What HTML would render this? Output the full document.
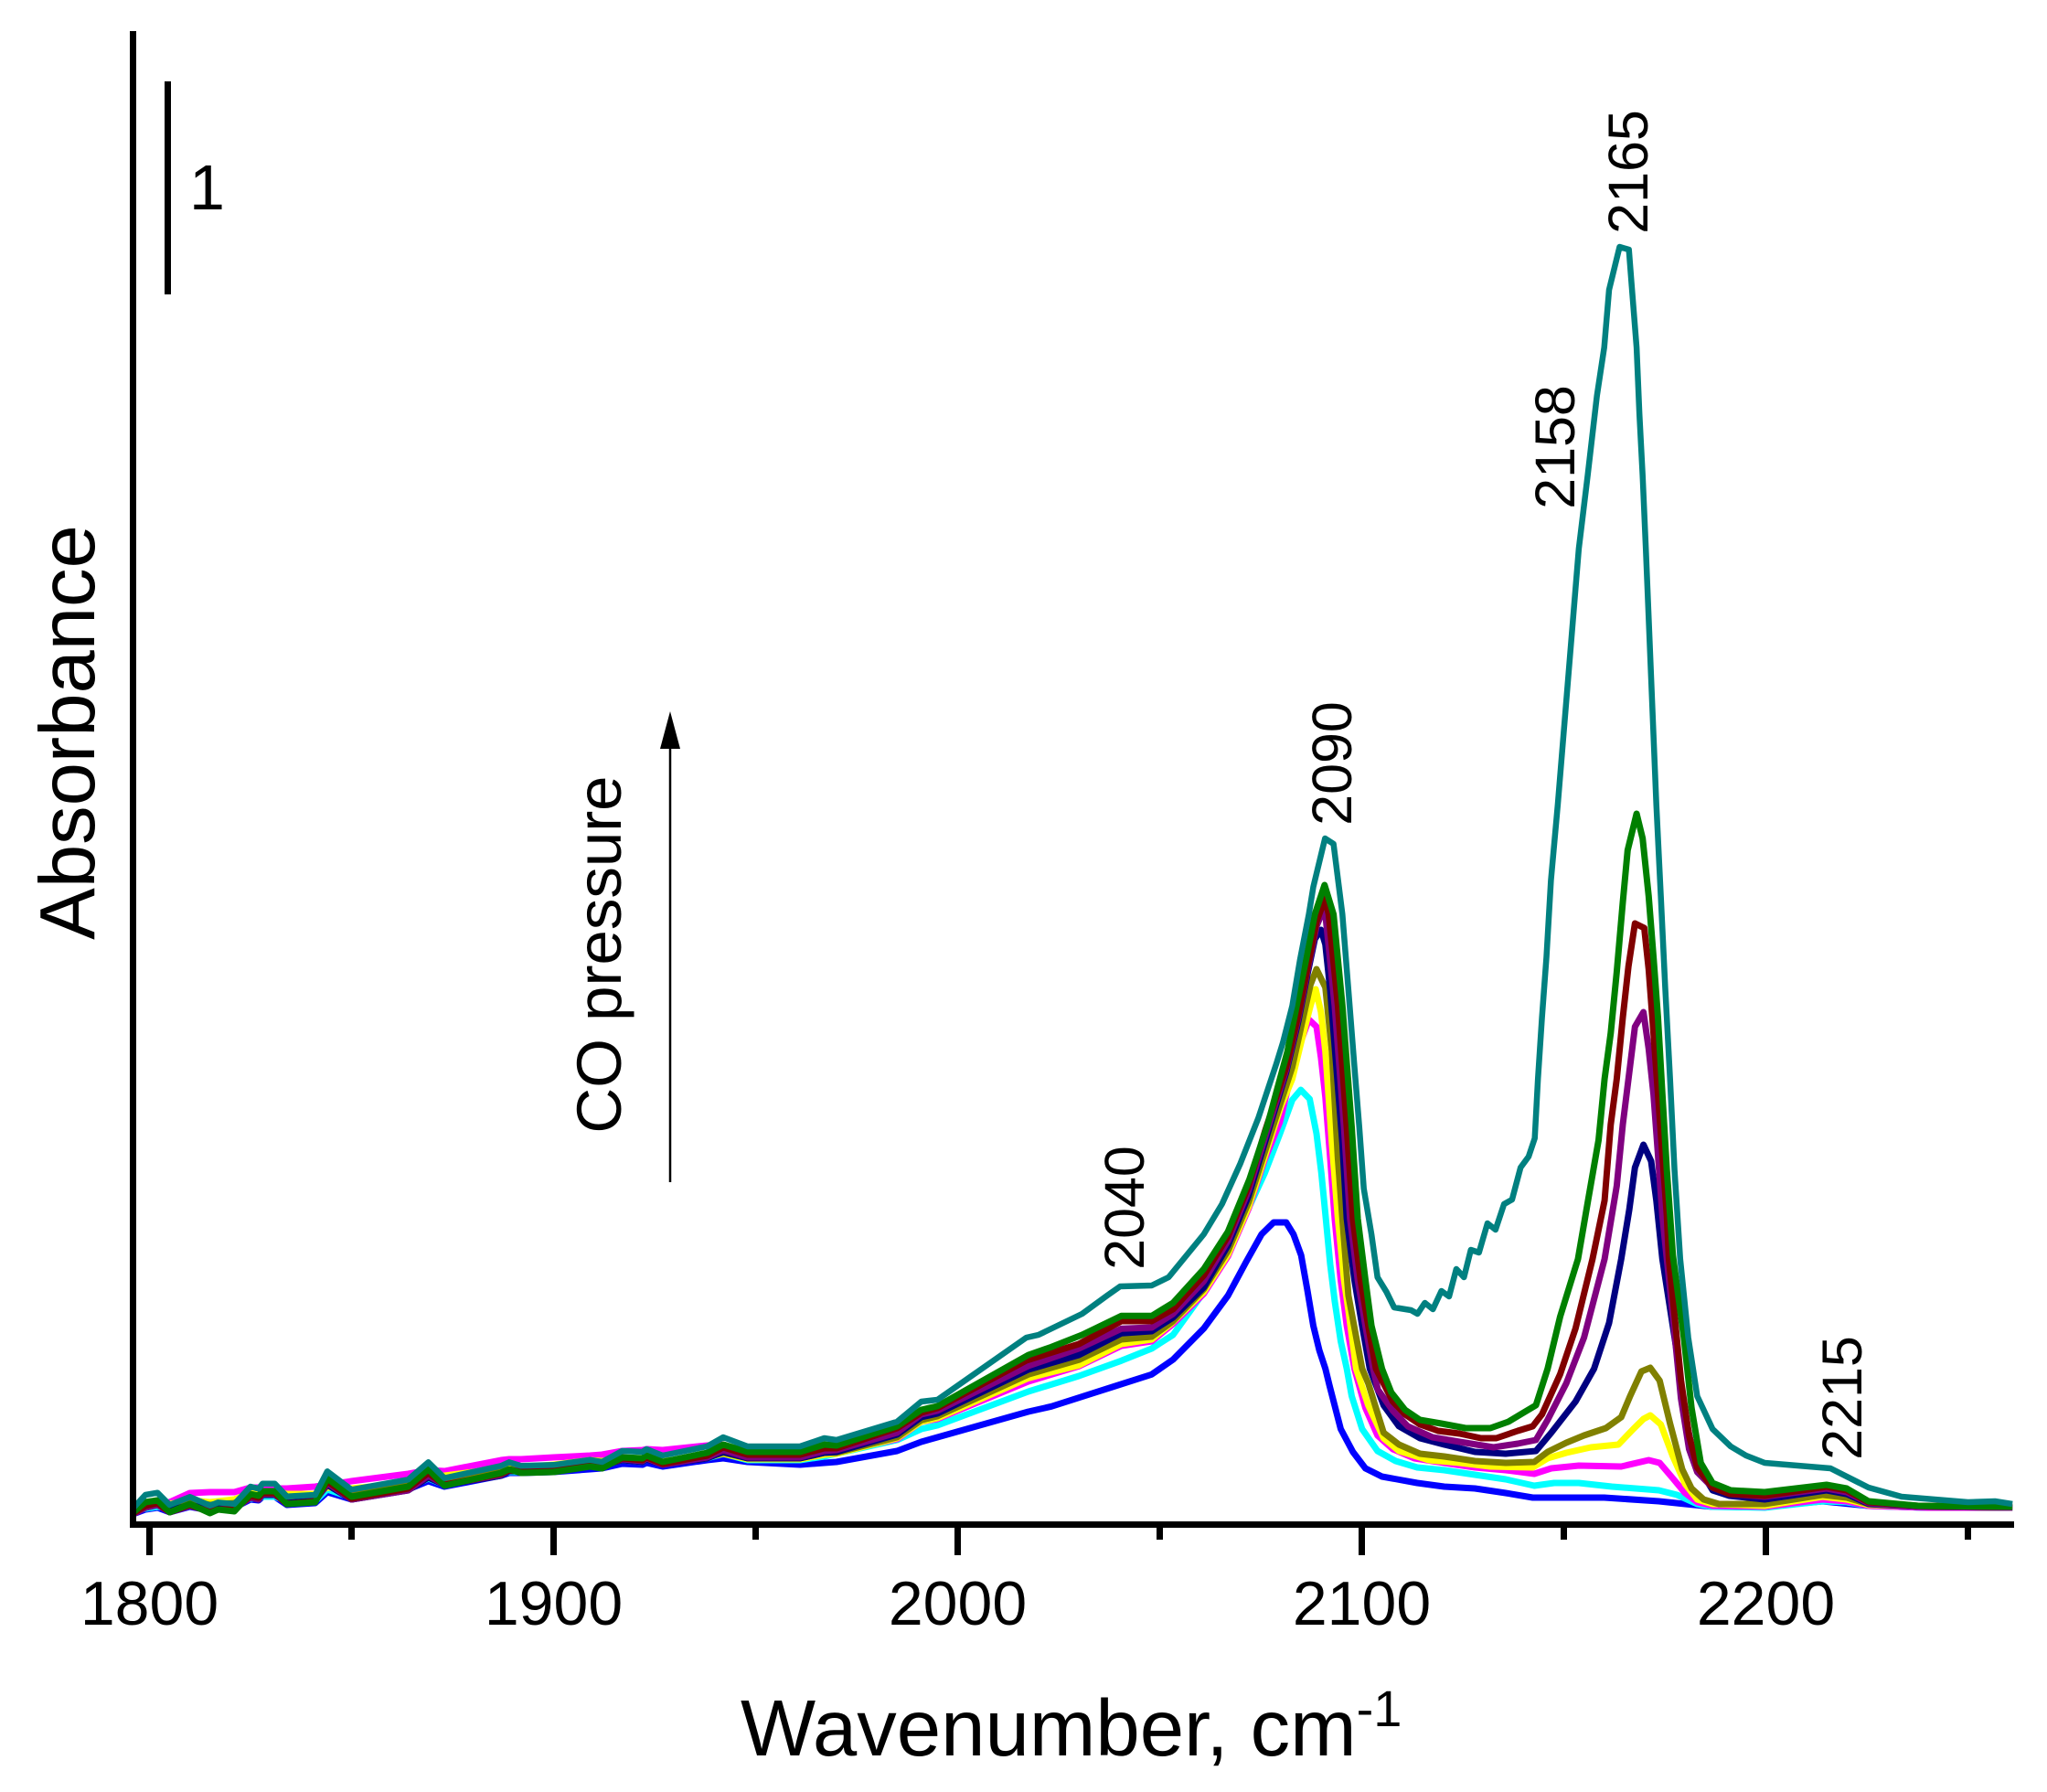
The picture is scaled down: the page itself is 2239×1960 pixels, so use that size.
<!DOCTYPE html>
<html lang="en">
<head>
<meta charset="utf-8">
<title>Absorbance vs wavenumber under CO pressure</title>
<style>
html,body{margin:0;padding:0;background:#fff;}
svg{display:block;}
text{font-family:"Liberation Sans",Arial,sans-serif;fill:#000;}
</style>
</head>
<body>
<svg id="chart" xmlns="http://www.w3.org/2000/svg" width="2239" height="1960" viewBox="0 0 2239 1960">
  <rect x="0" y="0" width="2239" height="1960" fill="#fff"/>
  <g id="series-layer"></g>
  <g id="tick-layer"></g>
  <rect x="142" y="34" width="7" height="1637" fill="#000"/>
  <rect x="142" y="1664" width="2061" height="7" fill="#000"/>
  <rect x="180" y="89" width="7" height="233" fill="#000"/>
  <text x="207" y="229" font-size="70">1</text>
  <text transform="translate(103,801) rotate(-90)" text-anchor="middle" font-size="85">Absorbance</text>
  <text x="810" y="1920" font-size="87">Wavenumber, cm<tspan font-size="56" dy="-32">-1</tspan></text>
  <text transform="translate(679,1044) rotate(-90)" text-anchor="middle" font-size="69">CO pressure</text>
  <line x1="733" y1="1293" x2="733" y2="815" stroke="#000" stroke-width="2.5"/>
  <polygon points="733,778 722,819 744,819" fill="#000"/>
  <text transform="translate(1251,1321) rotate(-90)" text-anchor="middle" font-size="61">2040</text>
  <text transform="translate(1478,835) rotate(-90)" text-anchor="middle" font-size="61">2090</text>
  <text transform="translate(1722,489) rotate(-90)" text-anchor="middle" font-size="61">2158</text>
  <text transform="translate(1802,188) rotate(-90)" text-anchor="middle" font-size="61">2165</text>
  <text transform="translate(2036,1529) rotate(-90)" text-anchor="middle" font-size="61">2215</text>
</svg>
<script>
// Wavenumbers shared by every spectrum below 1970 cm-1
const lowWave = [1796,1799,1802,1805,1810,1815,1817,1821,1825,1827,1828,1831,1834,1841,1844,1850,1864,1869,1873,1887,1889,1892,1900,1909,1912,1917,1922,1923,1927,1938,1942,1948,1961,1967,1970];

// Axis tick values
const majorTicks = [1800,1900,2000,2100,2200];
const minorTicks = [1850,1950,2050,2150,2250];

// Absorbance counts (233 counts = 1 absorbance unit, the scale bar)
const blueLow = [4,9,11,6,12,8,10,11,20,19,23,23,14,16,28,20,31,40,34,46,49,49,50,53,54,59,58,60,56,63,65,61,58,60,61];
const blueWave = [1985,1991,1995,2017.5,2023.2,2038.3,2048,2053.3,2060.9,2066.9,2071.4,2075.2,2078.2,2079.75,2081.3,2083.1,2085,2086.5,2088,2089.5,2091,2092,2094.8,2097.8,2100.9,2105,2113.7,2120.4,2128,2135.6,2142.3,2150,2160,2173.5,2180,2186.8,2199.7,2214,2225.4,2240,2261];
const blueAbs  = [73,83,88,116,121.7,143,156.7,173,207,243,280,310,323,323,323,310,287,250,210,183,163,145,97,72,54,45,38,34,32,27,22,22,22,18,15,12,12,18,13,11,11];

const cyanLow = [7,10,12,10,16,13,14,15,21,21,23,23,18,18,31,22,32,43,36,48,50,50,52,58,57,63,61,64,59,65,70,63,63,67,70];
const cyanWave = [1985,1991,1995,2017.5,2030,2040.5,2048,2053.3,2060.9,2066.9,2076,2079.75,2082.8,2084.9,2087.1,2088.8,2090,2091.1,2092.2,2093.3,2094.8,2096.3,2097.5,2100.1,2103.9,2108.4,2113.7,2120.4,2128,2135.6,2142.7,2147.6,2153.7,2161.9,2173.5,2178,2183,2186.8,2199.7,2214,2220,2225.4,2240,2261];
const cyanAbs  = [85,97,101,138,155,171.7,185,200,246.7,290,377,420,457,468,458,420,377,327,277,237,193,163,133,97,73,62,55,52,47,42,35,38,38,34,30,25,15,12,11,18,17,13,11,11];

const magentaLow = [10,13,15,17,27,28,28,28,33,33,33,32,32,34,36,40,48,52,51,63,64,64,66,68,69,73,74,75,74,79,80,70,66,72,72];
const magentaWave = [1985,1991,1995,2017.5,2030,2040.5,2048,2053.3,2060.9,2066.9,2072,2076,2079.75,2083.5,2086.9,2088.8,2089.9,2091,2092.2,2093.3,2094.8,2096.3,2098.2,2100.9,2103.9,2107.7,2113,2120.4,2128,2135.6,2142.7,2146.9,2153.7,2164.2,2171,2173.7,2177,2180,2183,2186.8,2199.7,2214,2220,2225.4,2240,2261];
const magentaAbs  = [86,105,108,149,165.7,188,193,212,245,286,338,392,433,503,545,537,503,460,393,327,260,210,163,120,90,75,65,60,55,52,48,54,57,56,63,60,43,27,17,13,12,20,18,13,11,11];

const yellowLow = [13,14,15,15,19,17,18,20,27,27,29,29,26,26,33,32,38,44,46,54,55,55,58,63,62,65,64,66,62,66,70,64,64,69,70];
const yellowWave = [1985,1991,1995,2017.5,2030,2040.5,2048,2053,2060.9,2066.9,2072,2076,2080,2082.8,2085,2087.3,2088.6,2089.9,2091,2092.6,2094.1,2095.6,2096.7,2098.6,2101.6,2105.4,2109.2,2116.6,2124.2,2131.8,2142.3,2146,2150.6,2156.7,2163.5,2167.2,2169.7,2171.4,2174,2177,2180,2183,2186.8,2199.7,2214,2220,2225.4,2240,2261];
const yellowAbs  = [87,105,109,152.7,166.7,190,195,213,247,288,340,395,450,480,520,560,578,553,510,410,327,260,227,163,123,87,73,63,60,56,55,65,71,77,80,97,108,112,102,67,37,20,15,13,23,20,14,12,11];

const oliveLow = [9,14,16,12,18,14,15,16,24,24,27,28,22,24,36,27,36,46,40,50,53,53,55,61,60,64,63,65,60,66,71,65,65,71,71];
const oliveWave = [1985,1991,1995,2017.5,2030,2040.5,2048,2053.3,2060.9,2066.9,2072,2076,2080,2082.8,2085,2087.3,2088.8,2091,2092.6,2094.1,2095.2,2096.7,2100.1,2101.6,2105.4,2109.2,2114.4,2120.4,2128,2135.6,2142.7,2146,2150.6,2155,2160.4,2164.2,2166.4,2169.2,2171.4,2173.7,2176.3,2179.3,2181.6,2184.6,2188.4,2199.7,2214,2220,2225.4,2240,2261];
const oliveAbs  = [88,106.7,111,156.7,172.7,195,198,215,250,292,345,400,455,493,537,583,600,580,510,393,327,243,163,147,93,80,70,67,62,60,61,72,82,90,98,110,133,160,164,150,103,53,32,20,15,15,25,22,15,12,11];

const navyLow = [6,11,14,8,14,9,10,11,22,20,25,25,16,19,36,20,30,44,36,46,51,51,51,59,57,63,61,64,58,65,72,65,65,71,72];
const navyWave = [1985,1991,1995,2017.5,2030,2040.5,2048,2053.3,2060.9,2066.9,2072,2076,2081.3,2084.3,2086.5,2088.4,2089.9,2091,2092.2,2093.7,2095.2,2096.3,2098.2,2100.1,2102,2105.4,2109.2,2114.4,2120.4,2128,2135.6,2143.1,2146.9,2152.9,2157.5,2161.2,2164.2,2166.2,2167.6,2169.7,2171.6,2172.9,2174.4,2178,2180,2182.3,2186.8,2191,2199.7,2215,2220,2225.4,2237.7,2261];
const navyAbs  = [91,110,114,162,178,201.7,204,219,252,298,352,410,487,543,593,633,643,627,577,493,410,327,260,210,163,123,100,87,80,72,70,73,93,127,163,213,283,337,383,408,390,347,283,180,113,63,30,24,20,30,26,15,12,11];

const purpleLow = [4,11,14,6,13,7,9,10,22,20,26,26,15,18,38,20,30,46,36,47,52,51,51,60,57,64,62,65,58,66,74,66,66,73,74];
const purpleWave = [1985,1991,1995,2017.5,2030,2040.5,2048,2053.3,2060.9,2066.9,2072,2076,2081.3,2084.3,2086.5,2088.8,2090.5,2091,2093.3,2095.6,2097.1,2099,2100.9,2102.8,2104,2107.7,2111.4,2117.5,2124.2,2132.6,2138.6,2143.1,2146,2150.6,2155,2160.1,2163.1,2164.6,2166.2,2167.6,2169.7,2171,2172.2,2173.3,2174.4,2175.5,2177,2179,2181,2183,2186.8,2191,2199.7,2215,2220,2225.4,2237.7,2261];
const purpleAbs  = [93,113,117,166,185,206.7,208,223,258.7,303,358,415,490,547,597,647,665,660,560,427,327,260,210,163,140,117,100,88,83,77,81,85,107,147,197,283,363,430,487,537,553,513,463,397,330,283,220,130,75,50,33,26,23,32,28,16,12,11];

const maroonLow = [5,13,16,6,14,6,9,9,24,22,27,27,15,18,40,21,32,49,36,48,52,50,51,58,55,65,63,66,59,68,77,69,69,76,76];
const maroonWave = [1985,1991,1995,2017,2030,2040.5,2048,2053.3,2060.9,2066.9,2072,2076,2081.3,2084.3,2086.5,2088.8,2090.9,2091.8,2094.1,2096.3,2097.8,2099.7,2101.6,2103.5,2107.7,2110.7,2114.4,2118.9,2124.2,2129.5,2133.3,2138.6,2142.3,2144.6,2149.1,2152.9,2157.1,2160.1,2161.6,2163.1,2164.6,2166,2167.6,2169.9,2171,2172.2,2173.3,2174.4,2175.5,2176,2177,2179,2181,2183,2186.8,2191,2199.7,2215,2220,2225.4,2237.7,2261];
const maroonAbs  = [98,115,120,172,190,215,215,228,265,308,363,422,493,550,600,652,677,660,560,427,327,260,210,163,127,113,102,95,92,87,87,95,100,113,157,207,283,347,430,480,547,603,650,645,600,530,463,397,330,283,240,150,90,55,33,26,24,34,30,17,13,12];

const greenLow = [6,17,19,6,15,5,9,7,26,24,29,29,15,17,43,23,34,53,35,49,53,49,50,56,54,66,65,68,61,71,80,72,72,80,79];
const greenWave = [1985,1991,1995,2017.5,2023.2,2030.8,2040.5,2048,2053.3,2060.9,2066.9,2072.2,2076.7,2079.75,2081.6,2083.9,2086.2,2088.4,2090.8,2093,2095.2,2097.5,2099,2100.9,2102.4,2105,2107.3,2110.7,2114.4,2119.7,2125.7,2131.8,2136.3,2139.3,2143.1,2146,2149.1,2153.5,2156,2158.6,2160.1,2161.6,2163.1,2164.6,2165.8,2168,2169.5,2171,2172.2,2173.3,2174.4,2175.5,2177,2179.7,2181.6,2183.9,2186.8,2191.3,2199.7,2215,2220,2225.4,2237.7,2261];
const greenAbs  = [100,118,122,178,186.7,200,220.7,220.7,235,272,313,370,430,480,510,560,610,660,692,660,560,427,327,260,210,163,137,118,107,103,98,98,105,113,123,163,220,283,347,413,480,530,597,673,730,770,743,680,613,547,463,380,287,197,120,60,38,30,28,36,32,18,13,12];

const tealLow = [10.7,25,27.3,14,22.7,13.3,16.7,15,34,31.7,37.3,37.3,23.3,25,50.7,30.7,41.7,60.7,43.3,56.7,60.7,56.7,57.7,63.3,61,73,72,75,68,78,88,78,78,87,85];
const tealWave = [1985,1991,1995,2017,2020,2030.8,2037,2040.2,2048,2052.2,2060.9,2065.4,2069.9,2074.4,2078.9,2080.5,2082.8,2084.7,2086.9,2088,2090.9,2093,2095.2,2096.7,2098.2,2099.4,2100.5,2102.4,2103.9,2106.1,2108,2112.2,2113.8,2115.6,2117.6,2119.7,2121.6,2123.4,2125.3,2127,2129,2131.1,2133.1,2135.2,2137.2,2139.3,2141.3,2142.8,2143.6,2144.6,2145.7,2146.8,2148.5,2153.7,2155.9,2158.2,2160,2161.2,2162.7,2163.8,2166.1,2166.8,2168,2168.7,2169.5,2170.3,2172.9,2174,2175.1,2176.3,2177.4,2178.8,2180.8,2183,2186.8,2191.3,2195.1,2199.7,2216,2225.4,2233.6,2250,2256.7,2261];
const tealAbs  = [105,127,129,197,200,223,243,253,254,263,310,343,387,437,497,520,560,610,660,690,743,737,660,577,493,427,360,310,263,247,230,227,223,235,228,248,242,272,263,293,290,322,315,343,348,383,395,415,480,547,613,697,780,1060,1140,1227,1280,1343,1370,1390,1387,1347,1280,1207,1140,1060,780,680,580,480,380,283,197,133,97,78,68,60,54,33,23,17,18,15];

// Draw order and colours, earliest (lowest pressure) first
const seriesNames = ['blue','cyan','magenta','yellow','olive','navy','purple','maroon','green','teal'];
const seriesColors = ['#0000ff','#00ffff','#ff00ff','#ffff00','#808000','#000080','#800080','#800000','#008000','#008080'];
const seriesLow = [blueLow,cyanLow,magentaLow,yellowLow,oliveLow,navyLow,purpleLow,maroonLow,greenLow,tealLow];
const seriesWave = [blueWave,cyanWave,magentaWave,yellowWave,oliveWave,navyWave,purpleWave,maroonWave,greenWave,tealWave];
const seriesAbs = [blueAbs,cyanAbs,magentaAbs,yellowAbs,oliveAbs,navyAbs,purpleAbs,maroonAbs,greenAbs,tealAbs];

const SVG_NS = 'http://www.w3.org/2000/svg';
const countsPerAbsorbance = 233;
const scaleBarPixels = 233;

function xScale(wave) { return 163.5 + (wave - 1800) * 4.42; }
function yScale(counts) { return 1660 - counts * scaleBarPixels / countsPerAbsorbance; }

const seriesLayer = document.getElementById('series-layer');
seriesNames.forEach(function (name, s) {
  const waves = lowWave.concat(seriesWave[s]);
  const values = seriesLow[s].concat(seriesAbs[s]);
  const pts = [];
  for (let i = 0; i < waves.length && i < values.length; i++) {
    pts.push(xScale(waves[i]).toFixed(1) + ',' + yScale(values[i]).toFixed(1));
  }
  const line = document.createElementNS(SVG_NS, 'polyline');
  
  
  line.setAttribute('points', pts.join(' '));
  line.setAttribute('fill', 'none');
  line.setAttribute('stroke', seriesColors[s]);
  line.setAttribute('stroke-width', name === 'teal' ? '6.5' : '7');
  line.setAttribute('stroke-linejoin', 'round');
  seriesLayer.appendChild(line);
});

const tickLayer = document.getElementById('tick-layer');
majorTicks.forEach(function (value) {
  const tick = document.createElementNS(SVG_NS, 'rect');
  
  
  tick.setAttribute('x', xScale(value) - 3.5);
  tick.setAttribute('y', 1670);
  tick.setAttribute('width', 7);
  tick.setAttribute('height', 31);
  tickLayer.appendChild(tick);
  const label = document.createElementNS(SVG_NS, 'text');
  
  
  label.setAttribute('x', xScale(value));
  label.setAttribute('y', 1777);
  label.setAttribute('text-anchor', 'middle');
  label.setAttribute('font-size', '68');
  label.textContent = String(value);
  tickLayer.appendChild(label);
});
minorTicks.forEach(function (value) {
  const tick = document.createElementNS(SVG_NS, 'rect');
  
  
  tick.setAttribute('x', xScale(value) - 3.5);
  tick.setAttribute('y', 1670);
  tick.setAttribute('width', 7);
  tick.setAttribute('height', 14);
  tickLayer.appendChild(tick);
});
</script>
</body>
</html>
